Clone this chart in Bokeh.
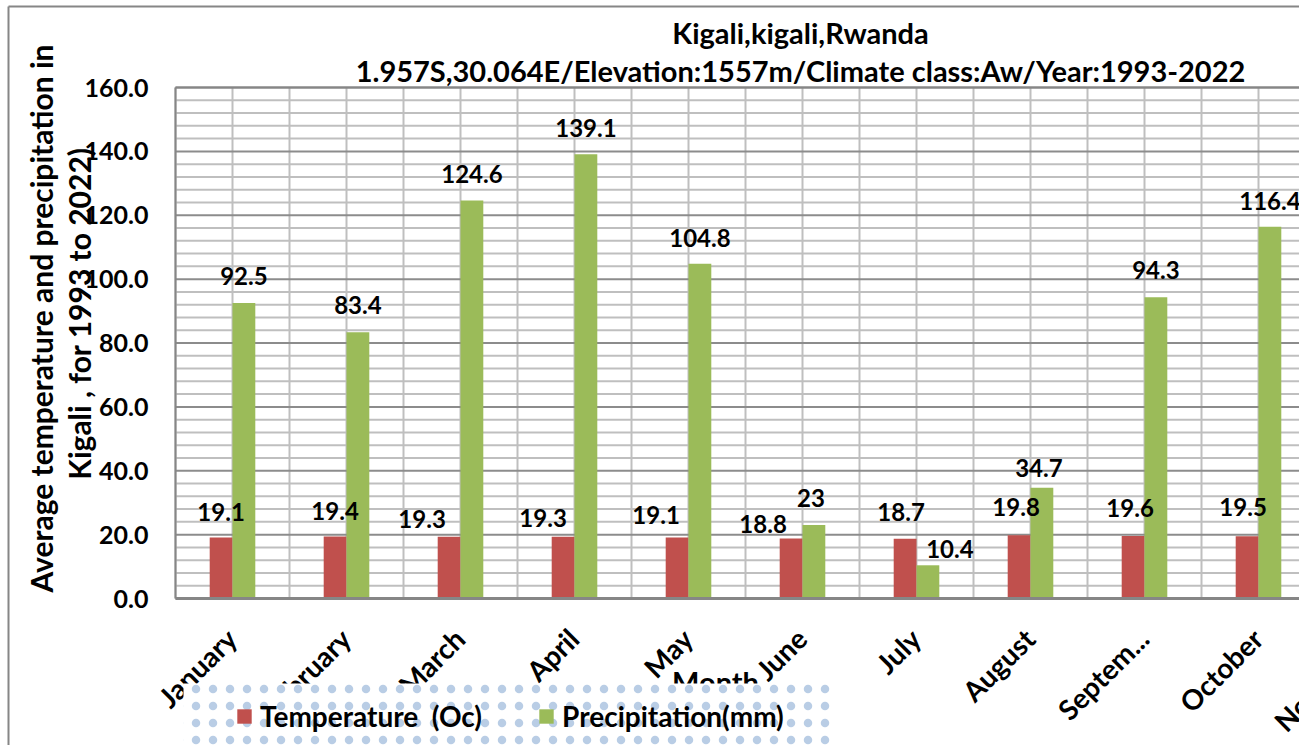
import math
from bokeh.plotting import figure
from bokeh.models import (ColumnDataSource, Range1d, Legend, LegendItem, BoxAnnotation)
from bokeh.core.properties import value
from bokeh.embed import file_html
from bokeh.resources import INLINE

# ---------------- data ----------------
months = ["January", "February", "March", "April", "May", "June", "July",
          "August", "September", "October", "November", "December"]
tick_labels = ["January", "February", "March", "April", "May", "June", "July",
               "August", "Septem...", "October", "November", "December"]
temperature = [19.1, 19.4, 19.3, 19.3, 19.1, 18.8, 18.7, 19.8, 19.6, 19.5]
precipitation = [92.5, 83.4, 124.6, 139.1, 104.8, 23, 10.4, 34.7, 94.3, 116.4]
y_ticks = [0, 20, 40, 60, 80, 100, 120, 140, 160]
y_minor_step = 4

title_lines = ["Kigali,kigali,Rwanda",
               "1.957S,30.064E/Elevation:1557m/Climate class:Aw/Year:1993-2022"]
y_title_lines = ["Average temperature and precipitation in",
                 "Kigali , for 1993 to 2022)"]
x_title = "Month"

# label nudges (pixels) - style only
temp_dx = [0, 0, -27, -20, -21, -28, -4, -3, -3, -4]
temp_dy = [-25, -26, -18, -19, -22, -14, -27, -28, -28, -29]
prec_dx = [0, 0, 0, 0, 0, -3, 22, -3, 0, 0]
prec_dy = [-27, -27, -27, -26, -26, -27, -16, -20, -27, -26]

FONT = "Lato"
RED = "#C0504D"
GREEN = "#9BBB59"
GRID_LIGHT = "#BFBFBF"
GRID_DARK = "#8C8C8C"
FRAME = "#868686"

# ---------------- layout (page pixels) ----------------
W, H = 1299, 745
PAGE_X0, PAGE_Y0 = 0, 0            # canvas origin on page
PLOT_LEFT, PLOT_BOTTOM = 175, 598  # plot-area corner on page
CAT_PX = 114                       # pixels per month
UNIT_PX = 511 / 160                # pixels per y unit


def dx(px):
    return (px - PLOT_LEFT) / CAT_PX


def dy(py):
    return (PLOT_BOTTOM - py) / UNIT_PX


x_range = Range1d(dx(PAGE_X0), dx(PAGE_X0 + W))
y_range = Range1d(dy(PAGE_Y0 + H), dy(PAGE_Y0))

p = figure(width=W, height=H, x_range=x_range, y_range=y_range,
           output_backend="svg", toolbar_location=None,
           x_axis_location=None, y_axis_location=None, min_border=0)
p.grid.visible = False
p.background_fill_color = "white"
p.border_fill_color = "white"
p.outline_line_color = None

n = len(temperature)
ncat = len(months)
y_max = y_ticks[-1]

# ---------------- grid ----------------
minor_vals = [v for v in range(0, y_max + 1, y_minor_step) if v not in y_ticks]
p.segment(x0=[0] * len(minor_vals), x1=[ncat] * len(minor_vals),
          y0=minor_vals, y1=minor_vals, line_color=GRID_LIGHT, line_width=2)
vx = [i * 0.5 for i in range(2 * ncat + 1)]
p.segment(x0=vx, x1=vx, y0=[0] * len(vx), y1=[y_max] * len(vx),
          line_color=GRID_LIGHT, line_width=2)
p.segment(x0=[0] * len(y_ticks), x1=[ncat] * len(y_ticks),
          y0=y_ticks, y1=y_ticks, line_color=GRID_DARK, line_width=2)
# plot area border
p.segment(x0=[0, 0], x1=[0, ncat], y0=[0, y_max], y1=[y_max, y_max],
          line_color=FRAME, line_width=2)

# ---------------- bars ----------------
temp_src = ColumnDataSource(dict(
    x=[i + 0.4 for i in range(n)], top=temperature,
    label=[f"{v:g}" for v in temperature], dx=temp_dx, dy=temp_dy))
prec_src = ColumnDataSource(dict(
    x=[i + 0.6 for i in range(n)], top=precipitation,
    label=[f"{v:g}" for v in precipitation], dx=prec_dx, dy=prec_dy))

r1 = p.vbar(x="x", top="top", width=0.2, source=temp_src,
            fill_color=RED, line_color=None)
r2 = p.vbar(x="x", top="top", width=0.2, source=prec_src,
            fill_color=GREEN, line_color=None)

# x axis line
p.segment(x0=[0], x1=[ncat], y0=[0], y1=[0], line_color=FRAME, line_width=3)

# ---------------- data labels ----------------
for src in (temp_src, prec_src):
    p.text(x="x", y="top", text="label", source=src,
           x_offset="dx", y_offset="dy",
           text_align="center", text_baseline="middle",
           text_font=value(FONT), text_font_style="bold",
           text_font_size="24px", text_color="black")

# ---------------- axis tick labels ----------------
p.text(x=[0] * len(y_ticks), y=y_ticks, text=[f"{v:.1f}" for v in y_ticks],
       x_offset=-27, text_align="right", text_baseline="middle",
       text_font=value(FONT), text_font_style="bold",
       text_font_size="25px", text_color="black")
p.text(x=[i + 0.5 for i in range(ncat)], y=[0] * ncat, text=tick_labels,
       angle=math.pi / 4, x_offset=-1, y_offset=35,
       text_align="right", text_baseline="middle",
       text_font=value(FONT), text_font_style="bold",
       text_font_size="28px", text_color="black")

# ---------------- titles ----------------
p.text(x=[dx(800), dx(800)], y=[dy(32), dy(70)], text=title_lines,
       text_align="center", text_baseline="middle",
       text_font=value(FONT), text_font_style="bold",
       text_font_size="29px", text_color="black")
p.text(x=[dx(40), dx(78)], y=[dy(318), dy(313)], text=y_title_lines,
       angle=math.pi / 2, text_align="center", text_baseline="middle",
       text_font=value(FONT), text_font_style="bold",
       text_font_size="30px", text_color="black")
p.text(x=[dx(715)], y=[dy(681)], text=[x_title],
       text_align="center", text_baseline="middle",
       text_font=value(FONT), text_font_style="bold",
       text_font_size="29px", text_color="black")

# outer chart border (top and left visible)
p.segment(x0=[dx(8), dx(8)], x1=[dx(8), dx(W + 10)],
          y0=[dy(H + 10), dy(6)], y1=[dy(6), dy(6)],
          line_color=FRAME, line_width=2)

# ---------------- legend ----------------
p.add_layout(BoxAnnotation(left=dx(183), right=dx(833), top=dy(683), bottom=dy(770),
                           fill_color="white", fill_alpha=1, line_color=None,
                           hatch_pattern="dot", hatch_color="#4F81BD",
                           hatch_scale=17, hatch_weight=0.5, hatch_alpha=0.4))

legend = Legend(items=[LegendItem(label="Temperature  (Oc)", renderers=[r1]),
                       LegendItem(label="Precipitation(mm)", renderers=[r2])],
                orientation="horizontal", location=(235, 12))
legend.background_fill_alpha = 0
legend.border_line_color = None
legend.label_text_font = FONT
legend.label_text_font_style = "bold"
legend.label_text_font_size = "28px"
legend.label_text_color = "black"
legend.label_height = 28
legend.glyph_width = 18
legend.glyph_height = 18
legend.label_standoff = 7
legend.spacing = 55
legend.padding = 10
legend.margin = 0
p.add_layout(legend)

open("out.html", "w").write(file_html(p, INLINE))
